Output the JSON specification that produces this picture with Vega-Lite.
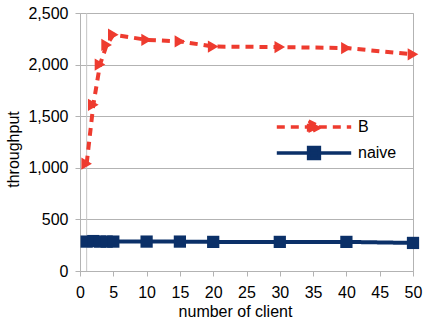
{
  "$schema": "https://vega.github.io/schema/vega-lite/v6.json",
  "width": 333,
  "height": 258,
  "autosize": "none",
  "padding": {"left": 80, "top": 13, "right": 10, "bottom": 55},
  "config": {
    "view": {"stroke": "#b3b3b3", "strokeWidth": 1},
    "font": "Liberation Sans",
    "axis": {"labelFont": "Liberation Sans", "titleFont": "Liberation Sans", "labelFontSize": 16, "titleFontSize": 16, "labelColor": "#000", "titleColor": "#000", "titleFontWeight": "normal", "domain": false, "ticks": true, "tickColor": "#b3b3b3", "tickSize": 5, "gridColor": "#b3b3b3"}
  },
  "data": {"values": [
      {"clients": 1, "throughput": 1040, "series": "B"},
      {"clients": 2, "throughput": 1610, "series": "B"},
      {"clients": 3, "throughput": 2000, "series": "B"},
      {"clients": 4, "throughput": 2190, "series": "B"},
      {"clients": 5, "throughput": 2290, "series": "B"},
      {"clients": 10, "throughput": 2240, "series": "B"},
      {"clients": 15, "throughput": 2225, "series": "B"},
      {"clients": 20, "throughput": 2175, "series": "B"},
      {"clients": 30, "throughput": 2170, "series": "B"},
      {"clients": 40, "throughput": 2160, "series": "B"},
      {"clients": 50, "throughput": 2100, "series": "B"},
      {"clients": 1, "throughput": 285, "series": "naive"},
      {"clients": 2, "throughput": 290, "series": "naive"},
      {"clients": 3, "throughput": 285, "series": "naive"},
      {"clients": 4, "throughput": 285, "series": "naive"},
      {"clients": 5, "throughput": 285, "series": "naive"},
      {"clients": 10, "throughput": 285, "series": "naive"},
      {"clients": 15, "throughput": 285, "series": "naive"},
      {"clients": 20, "throughput": 282, "series": "naive"},
      {"clients": 30, "throughput": 282, "series": "naive"},
      {"clients": 40, "throughput": 282, "series": "naive"},
      {"clients": 50, "throughput": 272, "series": "naive"}
  ]},
  "encoding": {
    "x": {
      "field": "clients", "type": "quantitative", "title": "number of client",
      "scale": {"domain": [0, 50], "nice": false},
      "axis": {"values": [0,5,10,15,20,25,30,35,40,45,50], "labelExpr": "format(datum.value, 'd')", "labelFlush": false, "labelOverlap": false, "grid": false, "labelPadding": 8, "titlePadding": 3, "titleX": 155}
    },
    "y": {
      "field": "throughput", "type": "quantitative", "title": "throughput",
      "scale": {"domain": [0, 2500], "nice": false},
      "axis": {"values": [0,500,1000,1500,2000,2500], "labelExpr": "format(datum.value, ',')", "labelFlush": false, "labelOverlap": false, "grid": true, "labelPadding": 7, "titlePadding": 6, "titleY": 136}
    }
  },
  "layer": [
    {
      "data": {"values": [{"clients": 1}]},
      "mark": {"type": "rule", "color": "#c4c4c4", "strokeWidth": 1},
      "encoding": {
        "x": {"field": "clients", "type": "quantitative"},
        "y": {"value": 0},
        "y2": {"value": 258}
      }
    },
    {
      "mark": {"type": "line", "strokeWidth": 4},
      "encoding": {
        "color": {
          "field": "series", "type": "nominal",
          "scale": {"domain": ["B", "naive"], "range": ["#ee3b2f", "#0b3068"]},
          "legend": {
            "title": null,
            "orient": "none",
            "legendX": 226,
            "legendY": 106,
            "padding": 0,
            "symbolSize": 144,
            "symbolStrokeWidth": 3.5,
            "labelFontSize": 16,
            "labelOffset": 36,
            "rowPadding": 0,
            "labelFont": "Liberation Sans",
            "labelColor": "#000",
            "encode": {
              "symbols": {
                "update": {
                  "shape": {"signal": "datum.value === 'B' ? 'M-6.2,0H6.2M-0.9,-1L1.1,0L-0.9,1Z' : 'M-6.2,0H6.2M-0.9,-0.9H0.9V0.9H-0.9Z'"},
                  "strokeDash": {"signal": "datum.value === 'B' ? [8, 6] : [1, 0]"},
                  "fill": {"signal": "datum.value === 'B' ? '#ee3b2f' : '#0b3068'"},
                  "fillOpacity": {"value": 1},
                  "opacity": {"value": 1}
                }
              }
            }
          }
        },
        "strokeDash": {"condition": {"test": "datum.series === 'B'", "value": [8, 6]}, "value": [1, 0]}
      }
    },
    {
      "mark": {"type": "point", "filled": true, "opacity": 1, "size": 150},
      "encoding": {
        "color": {"condition": {"test": "datum.series === 'B'", "value": "#ee3b2f"}, "value": "#0b3068"},
        "shape": {"condition": {"test": "datum.series === 'B'", "value": "triangle-right"}, "value": "square"}
      }
    }
  ]
}
